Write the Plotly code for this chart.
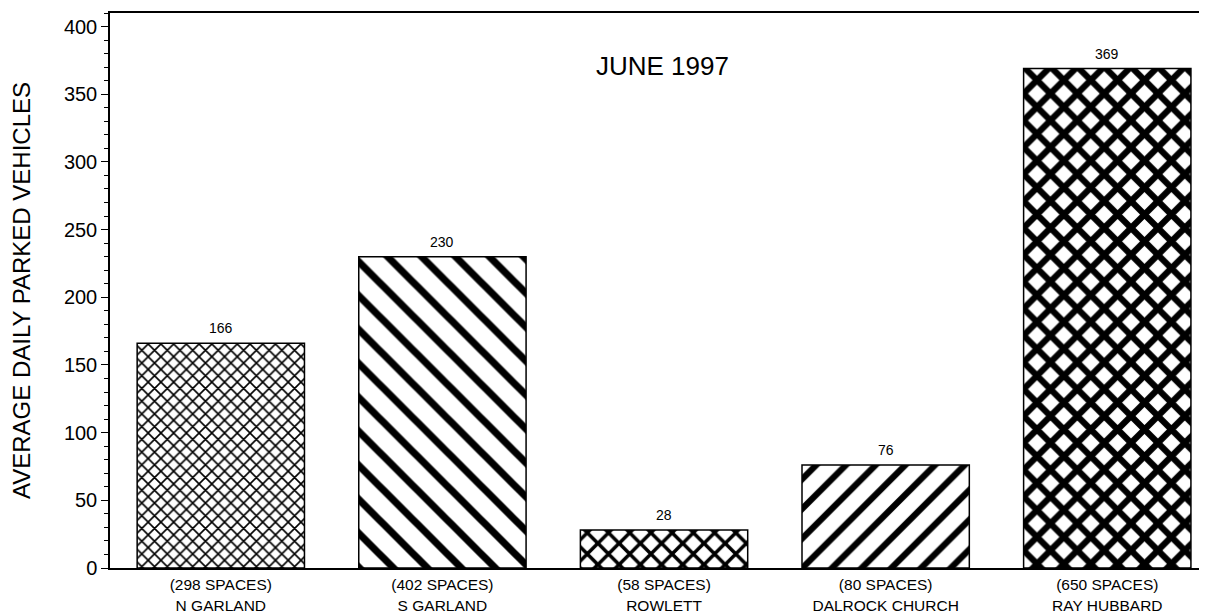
import plotly.graph_objects as go

stations = ["N GARLAND", "S GARLAND", "ROWLETT", "DALROCK CHURCH", "RAY HUBBARD"]
spaces = [298, 402, 58, 80, 650]
parked = [166, 230, 28, 76, 369]
tick_labels = [f"({s} SPACES)<br>{n}" for s, n in zip(spaces, stations)]

pattern_shapes = ["x", "\\", "x", "/", "x"]
pattern_sizes = [9, 24, 15, 21, 19]
pattern_solid = [0.33, 0.3, 0.42, 0.3, 0.55]

FONT = "Liberation Sans, Arial, sans-serif"

fig = go.Figure()
fig.add_trace(go.Bar(
    x=tick_labels,
    y=parked,
    width=0.755,
    marker=dict(
        color="white",
        line=dict(color="black", width=1.5),
        pattern=dict(shape=pattern_shapes, size=pattern_sizes,
                     solidity=pattern_solid, fgcolor="black", fgopacity=1,
                     bgcolor="white", fillmode="overlay"),
    ),
    showlegend=False,
))

for xl, v in zip(tick_labels, parked):
    fig.add_annotation(x=xl, y=v, text=str(v), showarrow=False,
                       yanchor="bottom", yshift=5,
                       font=dict(family=FONT, size=14, color="black"))

fig.add_annotation(xref="paper", yref="paper", x=0.504, y=0.905,
                   xanchor="center", yanchor="middle",
                   text="JUNE 1997", showarrow=False,
                   font=dict(family=FONT, size=26, color="black"))

# body of the html page has an 8px margin: keep figure inside the window
fig.update_layout(
    width=1199, height=606,
    margin=dict(l=102, r=0, t=5, b=46),
    paper_bgcolor="white", plot_bgcolor="white",
    font=dict(family=FONT, color="black"),
)
fig.update_xaxes(
    range=[-0.5, 4.45],
    showline=True, linecolor="black", linewidth=1.5, mirror=True,
    ticks="", showgrid=False, automargin=False,
    ticklabelstandoff=2,
    tickfont=dict(family=FONT, size=15.5, color="black"),
)
fig.update_yaxes(
    range=[0, 410],
    dtick=50, tick0=0,
    showline=True, linecolor="black", linewidth=1.5,
    ticks="outside", ticklen=7, tickwidth=1.2, tickcolor="black",
    minor=dict(dtick=10, ticks="outside", ticklen=4, tickwidth=1, tickcolor="black", showgrid=False),
    showgrid=False, zeroline=False, automargin=False,
    tickfont=dict(family=FONT, size=20, color="black"),
    title=dict(text="AVERAGE DAILY PARKED VEHICLES", standoff=28,
               font=dict(family=FONT, size=24, color="black")),
)

fig.write_html("out.html")
